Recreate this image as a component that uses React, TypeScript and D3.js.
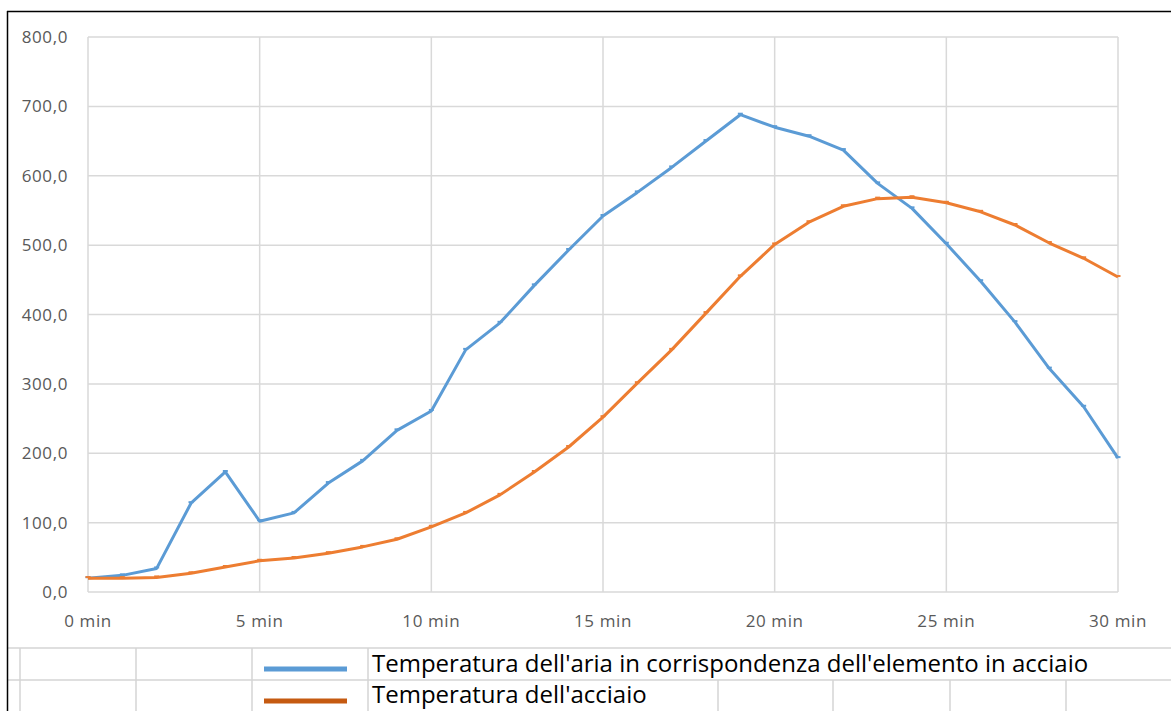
import { useEffect, useRef } from 'react';
import * as d3 from 'd3';

const minutes = d3.range(0, 31);
const airTemp = [20, 24, 34, 128, 173, 102, 114, 157, 189, 233, 261, 349, 388, 442, 493, 542, 576, 612, 650, 688, 670, 657, 637, 589, 553, 502, 448, 389, 322, 267, 193];
const steelTemp = [20, 20, 21, 27, 36, 45, 49, 56, 65, 76, 94, 114, 140, 173, 209, 252, 301, 349, 402, 455, 501, 533, 556, 567, 569, 561, 548, 529, 503, 481, 454];
const yTicks = [0, 100, 200, 300, 400, 500, 600, 700, 800];
const xTicks = [0, 5, 10, 15, 20, 25, 30];
const seriesNames = [
    "Temperatura dell'aria in corrispondenza dell'elemento in acciaio",
    "Temperatura dell'acciaio",
];

const W = 1171;
const H = 711;

export default function App() {
    const svgRef = useRef<SVGSVGElement>(null);

    useEffect(() => {
        if (!svgRef.current) return;
        const svg = d3.select(svgRef.current);
        svg.selectAll('*').remove();

        svg.append('rect').attr('width', W).attr('height', H).attr('fill', '#fff');

        const margin = { top: 37, left: 88, right: 53, bottom: 119 };
        const x = d3.scaleLinear().domain([0, 30]).range([margin.left, W - margin.right]);
        const y = d3.scaleLinear().domain([0, 800]).range([H - margin.bottom, margin.top]);

        const grid = '#d9d9d9';
        const font = "'Open Sans', sans-serif";

        // gridlines
        svg.append('g')
            .selectAll('line')
            .data(yTicks)
            .join('line')
            .attr('x1', x(0)).attr('x2', x(30))
            .attr('y1', d => y(d)).attr('y2', d => y(d))
            .attr('stroke', grid).attr('stroke-width', 1.5);
        svg.append('g')
            .selectAll('line')
            .data(xTicks)
            .join('line')
            .attr('x1', d => x(d)).attr('x2', d => x(d))
            .attr('y1', y(0)).attr('y2', y(800))
            .attr('stroke', grid).attr('stroke-width', 1.5);

        // axis labels
        svg.append('g')
            .selectAll('text')
            .data(yTicks)
            .join('text')
            .attr('x', 68)
            .attr('y', d => y(d) + 6)
            .attr('text-anchor', 'end')
            .attr('font-family', font)
            .attr('font-size', 17)
            .attr('letter-spacing', 0.6)
            .attr('fill', '#595959')
            .text(d => d3.format('.1f')(d).replace('.', ','));
        svg.append('g')
            .selectAll('text')
            .data(xTicks)
            .join('text')
            .attr('x', d => x(d))
            .attr('y', 627)
            .attr('text-anchor', 'middle')
            .attr('font-family', font)
            .attr('font-size', 17)
            .attr('letter-spacing', 0.6)
            .attr('fill', '#595959')
            .text(d => `${d} min`);

        const line = d3.line<number>()
            .x((_, i) => x(minutes[i]))
            .y(d => y(d));

        const series = [
            { values: airTemp, color: '#5b9bd5', legend: '#5b9bd5' },
            { values: steelTemp, color: '#ed7d31', legend: '#c55a11' },
        ];

        series.forEach(s => {
            svg.append('path')
                .datum(s.values)
                .attr('d', line)
                .attr('fill', 'none')
                .attr('stroke', s.color)
                .attr('stroke-width', 3)
                .attr('stroke-linejoin', 'round');
            svg.append('g')
                .selectAll('line')
                .data(s.values)
                .join('line')
                .attr('x1', (_, i) => x(minutes[i]) - 2.5)
                .attr('x2', (_, i) => x(minutes[i]) + 2.5)
                .attr('y1', d => y(d) - 1)
                .attr('y2', d => y(d) - 1)
                .attr('stroke', s.color)
                .attr('stroke-width', 2);
        });

        // table below chart
        const tableColor = '#d4d4d4';
        [648, 680].forEach(yy => {
            svg.append('line')
                .attr('x1', 7).attr('x2', W)
                .attr('y1', yy).attr('y2', yy)
                .attr('stroke', tableColor).attr('stroke-width', 1.5);
        });
        [20, 136, 252, 368].forEach(xx => {
            svg.append('line')
                .attr('x1', xx).attr('x2', xx)
                .attr('y1', 648).attr('y2', H)
                .attr('stroke', tableColor).attr('stroke-width', 1.5);
        });
        [718, 833, 950, 1066].forEach(xx => {
            svg.append('line')
                .attr('x1', xx).attr('x2', xx)
                .attr('y1', 680).attr('y2', H)
                .attr('stroke', tableColor).attr('stroke-width', 1.5);
        });

        // legend
        series.forEach((s, i) => {
            const cy = 669 + i * 32;
            svg.append('line')
                .attr('x1', 264).attr('x2', 347)
                .attr('y1', cy).attr('y2', cy)
                .attr('stroke', s.legend)
                .attr('stroke-width', 5);
            svg.append('text')
                .attr('x', 372)
                .attr('y', 672 + i * 31)
                .attr('font-family', font)
                .attr('font-size', 24)
                .attr('fill', '#000')
                .text(seriesNames[i]);
        });

        // outer border
        svg.append('line').attr('x1', 7).attr('x2', W).attr('y1', 11.5).attr('y2', 11.5)
            .attr('stroke', '#000').attr('stroke-width', 1.5);
        svg.append('line').attr('x1', 7.5).attr('x2', 7.5).attr('y1', 11).attr('y2', H)
            .attr('stroke', '#000').attr('stroke-width', 1.5);
    }, []);

    return (
        <svg
            ref={svgRef}
            width={W}
            height={H}
            style={{ position: 'absolute', left: 0, top: 0, display: 'block' }}
        />
    );
}
